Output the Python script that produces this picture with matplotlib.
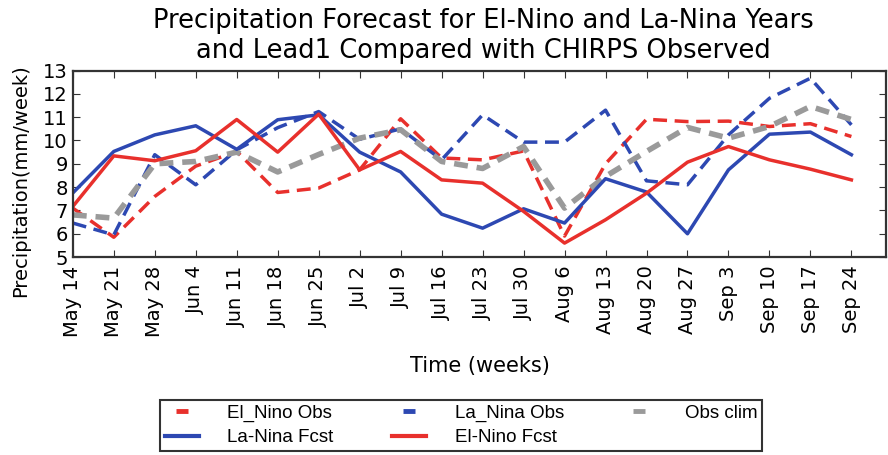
import numpy as np
import matplotlib.pyplot as plt
from matplotlib.lines import Line2D

weeks = ["May 14", "May 21", "May 28", "Jun 4", "Jun 11", "Jun 18", "Jun 25",
         "Jul 2", "Jul 9", "Jul 16", "Jul 23", "Jul 30", "Aug 6", "Aug 13",
         "Aug 20", "Aug 27", "Sep 3", "Sep 10", "Sep 17", "Sep 24"]

elnino_obs = [7.1, 5.85, 7.6, 8.9, 9.53, 7.77, 7.96, 8.74, 10.93, 9.25,
              9.17, 9.55, 5.9, 9.0, 10.91, 10.81, 10.83, 10.6, 10.72, 10.17]
lanina_obs = [6.46, 5.95, 9.39, 8.1, 9.6, 10.55, 11.24, 10.05, 10.5, 9.17,
              11.1, 9.93, 9.93, 11.3, 8.27, 8.1, 10.24, 11.81, 12.67, 10.67]
obs_clim = [6.81, 6.67, 9.0, 9.1, 9.5, 8.65, 9.4, 10.1, 10.46, 9.1,
            8.8, 9.74, 7.1, 8.46, 9.53, 10.56, 10.1, 10.6, 11.46, 10.9]
lanina_fcst = [7.75, 9.53, 10.24, 10.63, 9.62, 10.89, 11.1, 9.5, 8.65, 6.84,
               6.24, 7.07, 6.46, 8.36, 7.79, 6.0, 8.74, 10.27, 10.36, 9.39]
elnino_fcst = [7.17, 9.34, 9.13, 9.56, 10.9, 9.5, 11.13, 8.74, 9.53, 8.31,
               8.17, 6.96, 5.6, 6.6, 7.74, 9.07, 9.74, 9.17, 8.77, 8.31]

red = "#e8302c"
blue = "#2d48b2"
gray = "#9a9a9a"

fig = plt.figure(figsize=(8.88, 4.55), dpi=100)
ax = fig.add_axes([0.082, 0.435, 0.916, 0.41])
x = np.arange(len(weeks))

ax.plot(x, elnino_obs, color=red, lw=2.5, dashes=(4, 2.2))
ax.plot(x, lanina_obs, color=blue, lw=2.5, dashes=(4, 2.2))
ax.plot(x, obs_clim, color=gray, lw=4, dashes=(2.5, 1.6))
ax.plot(x, lanina_fcst, color=blue, lw=2.5)
ax.plot(x, elnino_fcst, color=red, lw=2.5)

ax.set_xlim(0, 19.85)
ax.set_ylim(5, 13)
ax.set_xticks(x)
ax.set_xticklabels(weeks, rotation=90, fontsize=14)
ax.set_yticks(range(5, 14))
ax.tick_params(axis="y", labelsize=14)
ax.tick_params(axis="x", pad=6)
ax.tick_params(direction="in", length=5, top=True, right=True, color="#333333")
for s in ax.spines.values():
    s.set_linewidth(1.6)
    s.set_color("#333333")

fig.text(0.544, 1 - 36 / 455, "Precipitation Forecast for El-Nino and La-Nina Years\n"
         "and Lead1 Compared with CHIRPS Observed", fontsize=18.5,
         ha="center", va="center", linespacing=1.15)
ax.set_xlabel("Time (weeks)", fontsize=15, labelpad=14)
ax.set_ylabel("Precipitation(mm/week)", fontsize=14)
ax.yaxis.set_label_coords(-0.053, 0.41)

dash = dict(marker="_", markersize=9, markeredgewidth=3.5, linestyle="none")
handles = [Line2D([], [], color=red, **dash),
           Line2D([], [], color=blue, lw=3),
           Line2D([], [], color=blue, **dash),
           Line2D([], [], color=red, lw=3),
           Line2D([], [], color=gray, **dash)]
labels = ["El_Nino Obs", "La-Nina Fcst", "La_Nina Obs", "El-Nino Fcst", "Obs clim"]
leg = fig.legend(handles, labels, ncol=3, loc="upper left",
                 bbox_to_anchor=(0.18, 0.121), bbox_transform=fig.transFigure,
                 borderaxespad=0,
                 prop={"family": "Liberation Sans", "size": 13.5},
                 frameon=True, fancybox=False, edgecolor="black",
                 handlelength=1.85, handletextpad=1.5, columnspacing=3.1,
                 labelspacing=0.38, borderpad=0.25)
leg.get_frame().set_linewidth(1.5)

fig.savefig("out.png", dpi=100)
